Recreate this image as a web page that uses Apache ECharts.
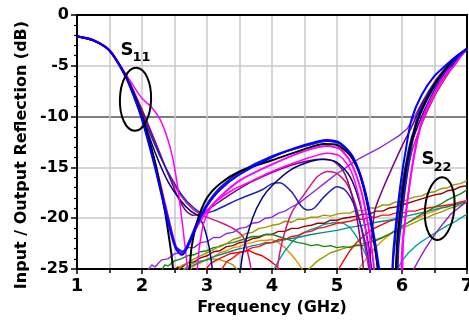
<!DOCTYPE html>
<html>
<head>
<meta charset="utf-8">
<script src="https://cdn.jsdelivr.net/npm/echarts@6/dist/echarts.min.js"></script>
<style>html,body{margin:0;padding:0;background:#fff}#c{width:469px;height:326px}</style>
</head>
<body>
<div id="c"></div>
<script>
// ---------- tick labels ----------
const xTicks = [1, 2, 3, 4, 5, 6, 7];
const yTicks = [-25, -20, -15, -10, -5, 0];

// ---------- S11 curves [GHz, dB] ----------
const s11Black = [[1.0,-2.1],[1.25,-2.5],[1.5,-3.5],[1.75,-6.0],[1.88,-7.9],[2.0,-9.9],[2.2,-14.5],[2.35,-19.2],[2.45,-23.4],[2.55,-27.5],[2.68,-27.5],[2.76,-23.0],[2.85,-20.3],[3.0,-18.0],[3.2,-16.6],[3.5,-15.4],[4.0,-14.3],[4.5,-13.2],[4.8,-12.7],[5.0,-12.8],[5.2,-13.8],[5.35,-15.6],[5.5,-19.5],[5.62,-24.5],[5.7,-29],[5.85,-29],[5.93,-22],[6.05,-15.5],[6.2,-11.2],[6.4,-8.0],[6.6,-5.9],[6.8,-4.3],[7.0,-3.3]];
const s11Blue = [[1.0,-2.1],[1.25,-2.5],[1.5,-3.5],[1.75,-6.1],[1.88,-8.1],[2.0,-10.3],[2.2,-15.0],[2.4,-20.4],[2.52,-23.0],[2.62,-23.6],[2.72,-22.6],[2.85,-20.6],[3.0,-18.8],[3.2,-17.2],[3.5,-15.7],[4.0,-14.0],[4.5,-12.8],[4.85,-12.3],[5.05,-12.6],[5.25,-14.0],[5.42,-17.0],[5.55,-21.0],[5.66,-25.5],[5.72,-29],[5.8,-29],[5.87,-23],[5.97,-17.0],[6.07,-12.8],[6.15,-10.2],[6.3,-7.9],[6.5,-6.0],[6.7,-4.8],[6.85,-4.0],[7.0,-3.3]];
const s11Blue2 = [[1.0,-2.1],[1.25,-2.5],[1.5,-3.5],[1.75,-6.0],[1.88,-8.0],[2.0,-10.1],[2.2,-14.8],[2.4,-20.0],[2.52,-22.8],[2.63,-23.3],[2.73,-22.2],[2.85,-20.4],[3.0,-18.6],[3.2,-17.0],[3.5,-15.5],[4.0,-13.9],[4.5,-12.9],[4.85,-12.4],[5.05,-12.7],[5.25,-14.2],[5.4,-16.8],[5.55,-21.5],[5.65,-26],[5.7,-29],[5.88,-29],[5.95,-22.5],[6.05,-17.0],[6.15,-12.8],[6.23,-10.2],[6.4,-7.8],[6.6,-5.9],[6.75,-4.9],[6.9,-3.9],[7.0,-3.4]];
const s11Magenta = [[1.0,-2.1],[1.25,-2.5],[1.5,-3.5],[1.75,-6.0],[1.88,-8.0],[2.0,-10.0],[2.2,-14.5],[2.4,-19.8],[2.52,-22.8],[2.6,-23.6],[2.7,-22.7],[2.85,-20.8],[3.0,-19.3],[3.2,-17.9],[3.5,-16.3],[4.0,-14.7],[4.5,-13.4],[4.85,-12.9],[5.05,-13.2],[5.22,-14.6],[5.38,-17.5],[5.5,-21.5],[5.58,-25.5],[5.63,-29],[5.95,-29],[6.02,-22],[6.12,-16.5],[6.22,-12.6],[6.32,-10.1],[6.5,-7.6],[6.7,-5.6],[6.8,-5.0],[6.9,-4.1],[7.0,-3.3]];
const s11Magenta2 = [[1.0,-2.1],[1.25,-2.4],[1.5,-3.4],[1.75,-5.8],[1.88,-7.1],[2.0,-8.2],[2.15,-9.1],[2.28,-10.3],[2.4,-12.3],[2.48,-14.3],[2.55,-17.0],[2.62,-20.5],[2.7,-25.0],[2.75,-29],[2.82,-27],[2.88,-23.0],[2.95,-20.5],[3.1,-18.6],[3.4,-17.2],[3.7,-16.3],[4.0,-15.4],[4.5,-14.2],[4.85,-13.6],[5.05,-13.9],[5.22,-15.4],[5.36,-18.5],[5.47,-22.5],[5.55,-27],[5.6,-29],[5.93,-29],[6.0,-23],[6.1,-17.5],[6.2,-13.5],[6.32,-10.3],[6.5,-7.7],[6.7,-5.7],[6.8,-5.0],[6.9,-4.1],[7.0,-3.4]];
const s11Navy = [[1.0,-2.1],[1.25,-2.5],[1.5,-3.5],[1.75,-6.0],[1.88,-7.9],[2.0,-9.9],[2.2,-13.5],[2.4,-16.4],[2.6,-18.3],[2.75,-19.3],[2.87,-19.8],[2.97,-21.2],[3.05,-23.5],[3.12,-27],[3.18,-29],[3.42,-29],[3.48,-27],[3.55,-23.5],[3.7,-20.0],[3.85,-18.0],[4.0,-16.8],[4.3,-15.2],[4.6,-14.4],[4.8,-14.2],[5.0,-14.5],[5.2,-15.9],[5.35,-18.5],[5.48,-22.5],[5.57,-27],[5.62,-29],[5.85,-29],[5.92,-24],[6.02,-17.5],[6.12,-13.4],[6.25,-10.8],[6.45,-8.0],[6.65,-6.0],[6.85,-4.3],[7.0,-3.3]];
const s11Wave = [[1.0,-2.1],[1.25,-2.5],[1.5,-3.5],[1.75,-6.0],[1.88,-7.9],[2.0,-9.8],[2.3,-14.2],[2.6,-17.6],[2.8,-19.0],[2.95,-19.5],[3.1,-19.3],[3.3,-18.7],[3.5,-18.1],[3.7,-17.6],[3.85,-17.2],[4.0,-16.6],[4.12,-16.5],[4.3,-17.4],[4.45,-18.8],[4.55,-19.2],[4.65,-19.0],[4.8,-17.9],[5.0,-16.9],[5.12,-17.2],[5.25,-18.5],[5.38,-21.0],[5.48,-23.8],[5.55,-27],[5.6,-29],[5.8,-29],[5.87,-24],[5.97,-18],[6.1,-13.2],[6.2,-11.0],[6.4,-8.2],[6.6,-6.2],[6.8,-4.5],[7.0,-3.4]];
const s11Crimson = [[1.0,-2.1],[1.25,-2.5],[1.5,-3.5],[1.75,-5.9],[1.88,-7.7],[2.0,-9.5],[2.2,-12.6],[2.4,-15.6],[2.6,-17.8],[2.8,-19.2],[3.0,-19.9],[3.2,-20.4],[3.4,-21.0],[3.55,-21.8],[3.63,-23.5],[3.69,-25.5],[3.73,-29],[4.02,-29],[4.07,-25.5],[4.15,-22.5],[4.3,-19.5],[4.5,-17.6],[4.7,-15.9],[4.85,-15.4],[5.0,-15.6],[5.15,-16.6],[5.3,-19.0],[5.42,-22.5],[5.5,-25.5],[5.55,-29],[5.85,-29],[5.92,-23.5],[6.02,-17.8],[6.15,-13.5],[6.3,-10.8],[6.5,-8.0],[6.7,-5.9],[6.85,-4.5],[7.0,-3.3]];
const s11Purple = [[1.0,-2.1],[1.25,-2.5],[1.5,-3.5],[1.75,-5.9],[1.88,-7.6],[2.0,-9.3],[2.2,-12.4],[2.4,-15.6],[2.55,-17.9],[2.68,-19.3],[2.78,-19.7],[2.9,-19.6],[3.05,-19.0],[3.3,-17.9],[3.66,-16.5],[4.0,-15.5],[4.4,-14.6],[4.75,-14.2],[4.95,-14.4],[5.1,-15.4],[5.22,-17.5],[5.32,-20.5],[5.4,-24.5],[5.45,-29],[5.5,-24.5],[5.58,-19.3],[5.7,-17.2],[5.85,-15.0],[6.0,-12.9],[6.15,-11.0],[6.3,-8.8],[6.5,-6.6],[6.7,-5.0],[6.85,-4.1],[7.0,-3.3]];

// ---------- S22 curves [GHz, dB] ----------
const s22Violet = [[2.08,-25.2],[2.15,-24.6],[2.2,-24.8],[2.3,-24.1],[2.4,-24.0],[2.5,-23.5],[2.6,-23.4],[2.7,-22.9],[2.8,-22.9],[2.9,-22.4],[3.0,-22.3],[3.1,-21.9],[3.2,-21.9],[3.3,-21.5],[3.4,-21.4],[3.5,-21.0],[3.6,-20.9],[3.7,-20.5],[3.8,-20.4],[3.9,-20.0],[4.0,-19.9],[4.1,-19.5],[4.2,-19.3],[4.3,-18.9],[4.4,-18.6],[4.5,-18.1],[4.6,-17.6],[4.7,-17.1],[4.8,-16.6],[4.9,-16.1],[5.0,-15.6],[5.1,-15.2],[5.2,-14.7],[5.35,-14.1],[5.5,-13.6],[5.65,-13.1],[5.8,-12.5],[5.95,-11.9],[6.08,-11.2],[6.2,-9.9],[6.3,-8.7],[6.42,-7.4],[6.55,-6.2],[6.7,-5.0],[6.85,-4.1],[7.0,-3.3]];
const s22Olive = [[2.55,-25.2],[2.6,-24.7],[2.7,-24.4],[2.8,-24.0],[2.9,-23.7],[3.0,-23.4],[3.1,-23.1],[3.2,-22.7],[3.3,-22.5],[3.4,-22.1],[3.5,-21.9],[3.6,-21.5],[3.7,-21.4],[3.8,-21.0],[3.9,-20.9],[4.0,-20.7],[4.1,-20.6],[4.2,-20.3],[4.3,-20.4],[4.4,-20.1],[4.5,-20.1],[4.6,-19.9],[4.7,-19.9],[4.8,-19.7],[4.9,-19.8],[5.0,-19.6],[5.1,-19.5],[5.2,-19.5],[5.3,-19.2],[5.4,-19.3],[5.5,-19.0],[5.6,-19.0],[5.7,-18.7],[5.8,-18.7],[5.9,-18.4],[6.0,-18.4],[6.1,-18.1],[6.2,-17.9],[6.3,-17.8],[6.4,-17.5],[6.5,-17.4],[6.6,-17.1],[6.7,-17.0],[6.8,-16.7],[6.9,-16.6],[7.0,-16.3]];
const s22Green = [[2.3,-25.2],[2.35,-24.6],[2.4,-24.7],[2.5,-24.2],[2.6,-24.0],[2.7,-23.7],[2.8,-23.6],[2.9,-23.3],[3.0,-23.2],[3.1,-22.9],[3.2,-22.8],[3.3,-22.5],[3.4,-22.4],[3.5,-22.2],[3.6,-22.0],[3.7,-21.8],[3.8,-21.8],[3.9,-21.6],[4.0,-21.6],[4.1,-21.8],[4.2,-22.0],[4.3,-22.2],[4.4,-22.4],[4.5,-22.5],[4.6,-22.7],[4.7,-22.6],[4.8,-22.8],[4.9,-22.7],[5.0,-22.9],[5.1,-22.8],[5.2,-22.9],[5.3,-22.7],[5.4,-22.7],[5.5,-22.4],[5.6,-22.2],[5.7,-21.9],[5.8,-21.6],[5.9,-21.2],[6.0,-20.8],[6.1,-20.4],[6.2,-20.0],[6.3,-19.6],[6.4,-19.3],[6.5,-18.9],[6.6,-18.6],[6.7,-18.2],[6.8,-17.9],[6.9,-17.6],[7.0,-17.2]];
const s22DarkRed = [[2.48,-25.2],[2.55,-24.8],[2.6,-24.9],[2.7,-24.4],[2.8,-24.3],[2.9,-23.9],[3.0,-23.7],[3.1,-23.3],[3.2,-23.2],[3.3,-22.8],[3.4,-22.7],[3.5,-22.4],[3.6,-22.3],[3.7,-22.0],[3.8,-21.9],[3.9,-21.6],[4.0,-21.6],[4.1,-21.3],[4.2,-21.3],[4.3,-21.0],[4.4,-21.0],[4.5,-20.8],[4.6,-20.7],[4.7,-20.5],[4.8,-20.5],[4.9,-20.2],[5.0,-20.2],[5.1,-20.0],[5.2,-19.9],[5.3,-19.8],[5.4,-19.6],[5.5,-19.6],[5.6,-19.3],[5.7,-19.3],[5.8,-19.0],[5.9,-18.9],[6.0,-18.7],[6.1,-18.5],[6.2,-18.3],[6.3,-18.1],[6.4,-17.9],[6.5,-17.7],[6.6,-17.6],[6.7,-17.3],[6.8,-17.2],[6.9,-16.9],[7.0,-16.8]];
const s22Red = [[3.2,-25.3],[3.3,-24.3],[3.4,-23.9],[3.5,-23.4],[3.6,-23.2],[3.7,-22.9],[3.8,-22.8],[3.9,-22.5],[4.0,-22.4],[4.1,-22.1],[4.2,-22.1],[4.3,-21.8],[4.4,-21.7],[4.5,-21.4],[4.6,-21.3],[4.7,-21.0],[4.8,-20.9],[4.9,-20.7],[5.0,-20.5],[5.1,-20.4],[5.2,-20.3],[5.3,-20.1],[5.4,-20.1],[5.5,-19.9],[5.6,-19.9],[5.7,-19.7],[5.8,-19.7],[5.9,-19.5],[6.0,-19.5],[6.1,-19.3],[6.2,-19.3],[6.3,-19.1],[6.4,-19.0],[6.5,-18.9],[6.6,-18.8],[6.7,-18.7],[6.8,-18.6],[6.9,-18.4],[7.0,-18.3]];
const s22Red2 = [[2.95,-25.3],[3.05,-24.5],[3.15,-24.1],[3.25,-23.8],[3.35,-23.5],[3.45,-23.4],[3.55,-23.3],[3.65,-23.2],[3.75,-23.5],[3.85,-23.7],[3.95,-24.1],[4.05,-24.6],[4.15,-25.3]];
const s22Red3 = [[5.0,-25.3],[5.1,-24.2],[5.2,-23.2],[5.3,-22.4],[5.4,-21.8],[5.5,-21.3],[5.6,-20.9],[5.7,-20.6],[5.8,-20.3],[5.9,-20.1],[6.0,-19.9]];
const s22Orange = [[2.7,-25.3],[2.8,-24.7],[2.9,-24.4],[3.0,-24.0],[3.1,-23.8],[3.2,-23.4],[3.3,-23.2],[3.4,-22.9],[3.5,-22.8],[3.6,-22.5],[3.7,-22.4],[3.8,-22.2],[3.9,-22.2],[4.0,-22.1],[4.1,-22.4],[4.2,-22.9],[4.3,-23.6],[4.4,-24.4],[4.5,-25.4]];
const s22Orange2 = [[5.3,-25.3],[5.4,-24.4],[5.5,-23.6],[5.6,-22.8],[5.7,-22.2],[5.8,-21.7],[5.9,-21.2],[6.0,-20.8],[6.1,-20.4],[6.2,-20.1],[6.3,-19.8],[6.4,-19.5],[6.5,-19.3],[6.6,-19.0],[6.7,-18.9],[6.8,-18.6],[6.9,-18.5],[7.0,-18.2]];
const s22Teal = [[2.6,-25.3],[2.7,-24.9],[2.8,-24.6],[2.9,-24.3],[3.0,-24.1],[3.1,-23.8],[3.2,-23.6],[3.3,-23.4],[3.4,-23.2],[3.5,-23.0],[3.6,-22.9],[3.7,-22.7],[3.8,-22.6],[3.9,-22.4],[4.0,-22.4],[4.2,-22.1],[4.4,-21.9],[4.6,-21.6],[4.8,-21.4],[5.0,-21.2],[5.2,-20.9],[5.4,-20.7],[5.6,-20.4],[5.8,-20.2],[6.0,-19.9],[6.2,-19.6],[6.4,-19.3],[6.6,-19.0],[6.8,-18.7],[7.0,-18.4]];
const s22Teal2 = [[4.0,-25.4],[4.1,-24.2],[4.2,-23.2],[4.3,-22.4],[4.4,-21.8],[4.5,-21.4],[4.6,-21.1],[4.7,-20.9],[4.8,-20.6],[4.9,-20.5],[5.0,-20.4],[5.1,-20.5],[5.2,-20.9],[5.3,-21.8],[5.4,-23.0],[5.5,-24.4],[5.55,-25.4]];
const s22Teal3 = [[5.9,-25.4],[6.0,-24.2],[6.1,-23.4],[6.2,-22.8],[6.3,-22.3],[6.4,-21.9],[6.5,-21.5],[6.6,-21.1],[6.7,-20.7],[6.8,-20.4],[6.9,-20.0],[7.0,-19.6]];
const s22Olive2 = [[4.5,-25.4],[4.6,-24.8],[4.7,-24.2],[4.8,-23.8],[4.9,-23.4],[5.0,-23.2],[5.1,-23.0],[5.2,-22.8],[5.3,-22.6],[5.4,-22.5],[5.5,-22.3],[5.6,-22.1],[5.7,-21.9],[5.8,-21.6],[5.9,-21.3],[6.0,-21.0],[6.1,-20.7],[6.2,-20.4],[6.3,-20.1],[6.4,-19.9],[6.5,-19.6],[6.6,-19.4],[6.7,-19.1],[6.8,-18.9],[6.9,-18.7],[7.0,-18.4]];
const s22Olive3 = [[2.6,-25.3],[2.7,-24.7],[2.8,-24.4],[2.9,-24.2],[3.0,-24.1],[3.1,-24.0],[3.2,-24.1],[3.3,-24.3],[3.4,-24.6],[3.5,-25.3]];
const s22Violet2 = [[6.15,-25.4],[6.25,-24.2],[6.35,-23.1],[6.45,-22.1],[6.55,-21.2],[6.65,-20.4],[6.75,-19.6],[6.85,-19.1],[6.95,-18.6],[7.0,-18.4]];

// ---------- annotations (data space) ----------
const s11Ellipse = { at: [1.9, -8.3], rx: 0.24, ry: 3.1 };
const s22Ellipse = { at: [6.58, -19.05], rx: 0.225, ry: 3.1 };
const s11Label = { at: [1.67, -3.45], text: 'S', sub: '11' };
const s22Label = { at: [6.3, -14.2], text: 'S', sub: '22' };

const FONT = 'DejaVu Sans';

function s22(data, color) {
  return { type: 'line', data, showSymbol: false, symbol: 'none', smooth: false,
    lineStyle: { color, width: 1.4 }, z: 2, animation: false };
}
function s11(data, color, w) {
  return { type: 'line', data, showSymbol: false, symbol: 'none', smooth: 0.25,
    lineStyle: { color, width: w }, z: 3, animation: false };
}

const series = [
  s22(s22Olive3, '#9a9a00'), s22(s22Red2, '#ff0000'), s22(s22Orange, '#f08c00'),
  s22(s22Teal2, '#00a0a0'), s22(s22Teal3, '#00a0a0'), s22(s22Olive2, '#9a9a00'),
  s22(s22Red3, '#ff0000'), s22(s22Orange2, '#f08c00'), s22(s22Teal, '#009090'),
  s22(s22Red, '#ff1010'), s22(s22DarkRed, '#990000'), s22(s22Green, '#108a10'),
  s22(s22Olive, '#9a9a00'), s22(s22Violet2, '#9020d0'), s22(s22Violet, '#8a2be2'),
  s11(s11Crimson, '#d01880', 1.5), s11(s11Purple, '#800080', 1.5),
  s11(s11Wave, '#2020c0', 1.5), s11(s11Navy, '#000080', 1.5),
  s11(s11Magenta2, '#ff00ff', 1.5), s11(s11Magenta, '#ff00ff', 2),
  s11(s11Blue2, '#1a1ad8', 2), s11(s11Black, '#000000', 2), s11(s11Blue, '#0000ff', 2)
];

const gray = '#c8c8c8';
const ySplitColors = yTicks.map(v => v === -10 ? '#555555' : gray);

const option = {
  animation: false,
  backgroundColor: '#ffffff',
  grid: { left: 77, right: 2, top: 15, bottom: 57, containLabel: false, outerBoundsMode: 'none' },
  xAxis: [{
    type: 'value', min: xTicks[0], max: xTicks[xTicks.length - 1], interval: 1,
    axisLine: { show: true, onZero: false, lineStyle: { color: '#000', width: 2 } },
    axisTick: { show: true, length: 5, lineStyle: { color: '#000', width: 1.5 } },
    minorTick: { show: true, splitNumber: 2, length: 4, lineStyle: { color: '#000', width: 1.5 } },
    splitLine: { show: true, lineStyle: { color: gray, width: 1.5 } },
    minorSplitLine: { show: true, lineStyle: { color: gray, width: 1.5 } },
    axisLabel: { fontFamily: FONT, fontWeight: 'bold', fontSize: 18, color: '#000', margin: 8 },
    name: 'Frequency (GHz)', nameLocation: 'middle', nameGap: 31,
    nameTextStyle: { fontFamily: FONT, fontWeight: 'bold', fontSize: 16, color: '#000' }
  }, {
    type: 'value', position: 'top', min: 1, max: 7,
    axisLine: { show: true, onZero: false, lineStyle: { color: '#000', width: 2 } },
    axisTick: { show: false }, axisLabel: { show: false }, splitLine: { show: false }
  }],
  yAxis: [{
    type: 'value', min: yTicks[0], max: yTicks[yTicks.length - 1], interval: 5,
    axisLine: { show: true, onZero: false, lineStyle: { color: '#000', width: 2 } },
    axisTick: { show: true, length: 6, lineStyle: { color: '#000', width: 1.5 } },
    minorTick: { show: true, splitNumber: 5, length: 3, lineStyle: { color: '#000', width: 1.2 } },
    splitLine: { show: true, lineStyle: { color: ySplitColors, width: 1.5 } },
    axisLabel: { fontFamily: FONT, fontWeight: 'bold', fontSize: 16, color: '#000', margin: 8 }
  }, {
    type: 'value', position: 'right', min: -25, max: 0,
    axisLine: { show: true, onZero: false, lineStyle: { color: '#000', width: 2 } },
    axisTick: { show: false }, axisLabel: { show: false }, splitLine: { show: false }
  }],
  series
};

const chart = echarts.init(document.getElementById('c'), null, { renderer: 'canvas' });
chart.setOption(option);

function px(pt) { return chart.convertToPixel({ xAxisIndex: 0, yAxisIndex: 0 }, pt); }
function ellipseEl(e, rot) {
  const c = px(e.at);
  const r = px([e.at[0] + e.rx, e.at[1] - e.ry]);
  return { type: 'ellipse', x: c[0], y: c[1], rotation: rot, z: 10,
    shape: { cx: 0, cy: 0, rx: r[0] - c[0], ry: r[1] - c[1] },
    style: { fill: 'none', stroke: '#000', lineWidth: 2 } };
}
function labelEls(l) {
  const p = px(l.at);
  return [
    { type: 'text', x: p[0], y: p[1], z: 10,
      style: { text: l.text, fontFamily: FONT, fontWeight: 'bold', fontSize: 18, fill: '#000',
        textAlign: 'left', textVerticalAlign: 'middle' } },
    { type: 'text', x: p[0] + 12, y: p[1] + 8, z: 10,
      style: { text: l.sub, fontFamily: FONT, fontWeight: 'bold', fontSize: 13, fill: '#000',
        textAlign: 'left', textVerticalAlign: 'middle' } }
  ];
}
chart.setOption({
  graphic: [
    ellipseEl(s11Ellipse, -0.03),
    ellipseEl(s22Ellipse, -0.1),
    ...labelEls(s11Label),
    ...labelEls(s22Label),
    { type: 'text', x: 22, y: 155, rotation: Math.PI / 2, z: 10,
      style: { text: 'Input / Output Reflection (dB)', fontFamily: FONT, fontWeight: 'bold',
        fontSize: 16, fill: '#000', textAlign: 'center', textVerticalAlign: 'middle' } }
  ]
});
</script>
</body>
</html>
